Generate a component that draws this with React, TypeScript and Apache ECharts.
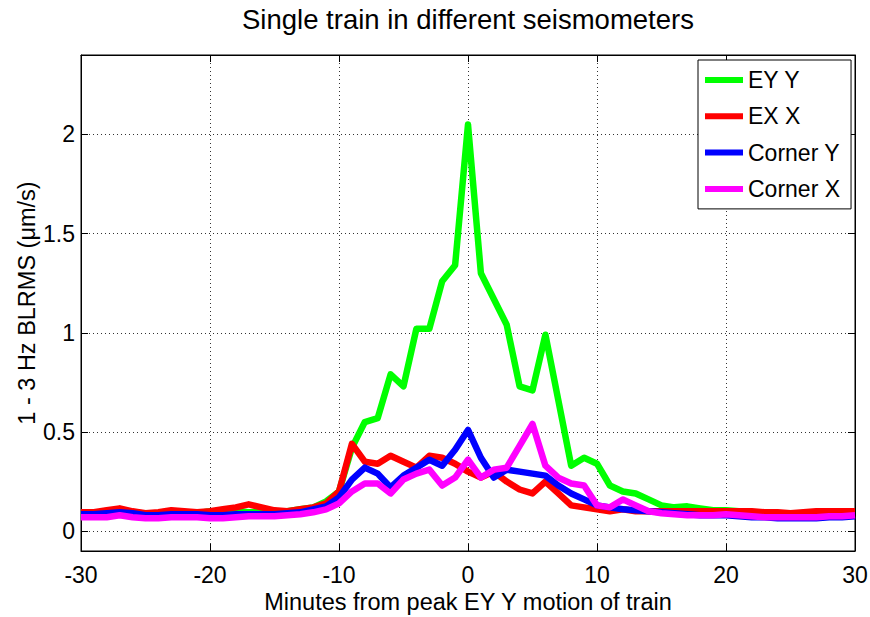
import React, { useEffect, useRef } from "react";
import * as echarts from "echarts";

// Minutes relative to the EY Y peak (one sample per minute)
const minutes = [
  -30, -29, -28, -27, -26, -25, -24, -23, -22, -21,
  -20, -19, -18, -17, -16, -15, -14, -13, -12, -11,
  -10, -9, -8, -7, -6, -5, -4, -3, -2, -1,
  0,
  1, 2, 3, 4, 5, 6, 7, 8, 9, 10,
  11, 12, 13, 14, 15, 16, 17, 18, 19, 20,
  21, 22, 23, 24, 25, 26, 27, 28, 29, 30,
];

// 1-3 Hz BLRMS in µm/s for each station/axis
const eyY = [
  0.09, 0.09, 0.09, 0.09, 0.09, 0.09, 0.09, 0.09, 0.09, 0.09,
  0.1, 0.1, 0.1, 0.095, 0.095, 0.095, 0.1, 0.11, 0.12, 0.15,
  0.2, 0.42, 0.55, 0.57, 0.79, 0.73, 1.02, 1.02, 1.26, 1.34,
  2.05,
  1.3, 1.17, 1.04, 0.73, 0.71, 0.99, 0.66, 0.33, 0.37, 0.34,
  0.23, 0.2, 0.19, 0.16, 0.13, 0.12, 0.125, 0.115, 0.105, 0.105,
  0.1, 0.095, 0.09, 0.09, 0.09, 0.09, 0.09, 0.09, 0.09, 0.09,
];

const exX = [
  0.095, 0.095, 0.105, 0.115, 0.1, 0.09, 0.095, 0.105, 0.1, 0.095,
  0.1, 0.11, 0.12, 0.135, 0.12, 0.105, 0.1, 0.11, 0.12, 0.14,
  0.2, 0.44, 0.35, 0.34, 0.38, 0.35, 0.32, 0.38, 0.37, 0.34,
  0.3,
  0.27, 0.3, 0.25, 0.21, 0.19, 0.25, 0.19, 0.13, 0.12, 0.11,
  0.1, 0.11, 0.1, 0.1, 0.1, 0.1, 0.1, 0.1, 0.1, 0.1,
  0.1, 0.1, 0.095, 0.095, 0.09, 0.095, 0.1, 0.1, 0.1, 0.1,
];

const cornerY = [
  0.085, 0.085, 0.09, 0.095, 0.09, 0.08, 0.08, 0.085, 0.085, 0.085,
  0.08, 0.08, 0.085, 0.085, 0.085, 0.085, 0.09, 0.095, 0.11, 0.125,
  0.17, 0.26, 0.32, 0.29, 0.22, 0.28, 0.32, 0.36, 0.33, 0.41,
  0.51,
  0.37, 0.27, 0.31, 0.3, 0.29, 0.28, 0.23, 0.19, 0.16, 0.13,
  0.12, 0.11, 0.105, 0.1, 0.095, 0.09, 0.085, 0.08, 0.08, 0.08,
  0.075, 0.07, 0.07, 0.065, 0.065, 0.065, 0.065, 0.07, 0.07, 0.075,
];

const cornerX = [
  0.07, 0.07, 0.07, 0.08, 0.07, 0.065, 0.065, 0.07, 0.07, 0.07,
  0.065, 0.065, 0.07, 0.075, 0.075, 0.075, 0.08, 0.085, 0.095, 0.11,
  0.14, 0.2, 0.24, 0.24, 0.19, 0.26, 0.29, 0.31, 0.23, 0.27,
  0.36,
  0.27, 0.31, 0.32, 0.43, 0.54, 0.33, 0.27, 0.24, 0.23, 0.13,
  0.12, 0.16, 0.13, 0.1, 0.09, 0.085, 0.08, 0.08, 0.08, 0.085,
  0.08, 0.075, 0.07, 0.07, 0.07, 0.07, 0.07, 0.075, 0.075, 0.08,
];

const seriesNames = ["EY Y", "EX X", "Corner Y", "Corner X"];
const seriesColors = ["#00ff00", "#ff0000", "#0000ff", "#ff00ff"];
const seriesValues = [eyY, exX, cornerY, cornerX];

const yTicks = [0, 0.5, 1, 1.5, 2];

const FONT = '"Liberation Sans", Arial, Helvetica, sans-serif';

export default function App() {
  const ref = useRef<HTMLDivElement>(null);

  useEffect(() => {
    if (!ref.current) return;
    const chart = echarts.init(ref.current, undefined, { renderer: "svg" });

    const tickStyle = { lineStyle: { color: "#000", width: 1 } };
    const gridLine = {
      show: true,
      lineStyle: { color: "#333", width: 1, type: [1, 3] as number[] },
    };

    const option: any = {
      animation: false,
      backgroundColor: "#fff",
      textStyle: { fontFamily: FONT },
      // title is centred over the plotting area (81..855)
      title: {
        text: "Single train in different seismometers",
        left: 468,
        textAlign: "center",
        top: 5,
        padding: 0,
        textStyle: {
          fontFamily: FONT,
          fontSize: 27.5,
          fontWeight: "normal",
          color: "#000",
        },
      },
      legend: {
        orient: "vertical",
        left: 698,
        top: 60,
        padding: [8.5, 11, 8.5, 7],
        itemGap: 13.3,
        itemWidth: 38,
        itemHeight: 6,
        icon: "rect",
        backgroundColor: "#fff",
        borderColor: "#000",
        borderWidth: 1,
        borderRadius: 0,
        textStyle: { fontFamily: FONT, fontSize: 23, color: "#000" },
        data: seriesNames,
      },
      grid: {
        left: 81,
        right: 15,
        top: 55,
        bottom: 66,
        show: true,
        borderColor: "#000",
        borderWidth: 1,
        backgroundColor: "#fff",
        containLabel: false,
        outerBoundsMode: "none",
      },
      xAxis: [
        {
          type: "value",
          min: -30,
          max: 30,
          interval: 10,
          position: "bottom",
          name: "Minutes from peak EY Y motion of train",
          nameLocation: "middle",
          nameGap: 39,
          nameMoveOverlap: false,
          nameTextStyle: { fontFamily: FONT, fontSize: 23.5, color: "#000" },
          axisLine: { onZero: false, lineStyle: { color: "#000", width: 1 } },
          axisTick: { inside: true, length: 7, ...tickStyle },
          axisLabel: { color: "#000", fontSize: 23, margin: 12, fontFamily: FONT },
          splitLine: gridLine,
        },
        {
          type: "value",
          min: -30,
          max: 30,
          interval: 10,
          position: "top",
          axisLine: { onZero: false, lineStyle: { color: "#000", width: 1 } },
          axisTick: { inside: true, length: 7, ...tickStyle },
          axisLabel: { show: false },
          splitLine: { show: false },
        },
      ],
      yAxis: [
        {
          type: "value",
          min: -0.1,
          max: 2.4,
          position: "left",
          name: "1 - 3 Hz BLRMS (μm/s)",
          nameLocation: "middle",
          nameGap: 42,
          nameMoveOverlap: false,
          nameTextStyle: { fontFamily: FONT, fontSize: 23.5, color: "#000" },
          axisLine: { show: true, onZero: false, lineStyle: { color: "#000", width: 1 } },
          axisTick: { show: true, inside: true, length: 7, customValues: yTicks, ...tickStyle },
          axisLabel: { color: "#000", fontSize: 23, margin: 6, fontFamily: FONT, customValues: yTicks },
          splitLine: gridLine,
        },
        {
          type: "value",
          min: -0.1,
          max: 2.4,
          position: "right",
          axisLine: { show: true, onZero: false, lineStyle: { color: "#000", width: 1 } },
          axisTick: { show: true, inside: true, length: 7, customValues: yTicks, ...tickStyle },
          axisLabel: { show: false },
          splitLine: { show: false },
        },
      ],
      series: seriesNames.map((name, i) => ({
        name,
        type: "line",
        xAxisIndex: 0,
        yAxisIndex: 0,
        data: minutes.map((m, j) => [m, seriesValues[i][j]]),
        showSymbol: false,
        symbol: "none",
        color: seriesColors[i],
        lineStyle: { width: 6.5, color: seriesColors[i], join: "round", cap: "butt" },
        itemStyle: { color: seriesColors[i] },
        z: 2 + i,
      })),
    };

    chart.setOption(option);
    return () => chart.dispose();
  }, []);

  return (
    <div
      ref={ref}
      style={{ position: "absolute", left: 0, top: 0, width: 870, height: 617 }}
    />
  );
}
